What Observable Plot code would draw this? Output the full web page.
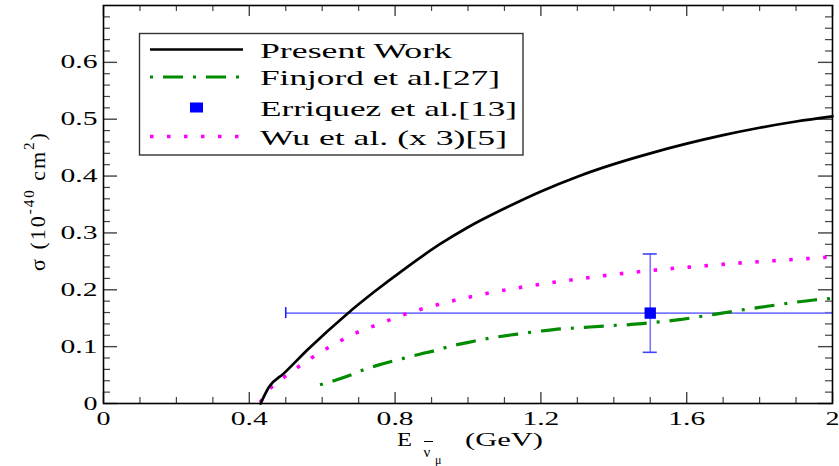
<!DOCTYPE html>
<html><head><meta charset="utf-8">
<script src="https://cdn.jsdelivr.net/npm/d3@7"></script>
<script src="https://cdn.jsdelivr.net/npm/@observablehq/plot@0.6"></script>
<style>html,body{margin:0;padding:0;background:#fff} svg{display:block}
svg text, svg tspan { font-family: "Liberation Serif", "DejaVu Serif", "Times New Roman", serif !important; }</style>
</head><body><div id="chart"></div>
<script>
// ---- data ----
const presentE = [0.431,0.454,0.495,0.559,0.669,0.742,0.833,0.925,1.0,1.1,1.2,1.3,1.4,1.5,1.6,1.7,1.8,1.9,2.0];
const presentS = [0.000,0.029,0.053,0.094,0.158,0.196,0.240,0.281,0.310,0.343,0.373,0.399,0.421,0.440,0.457,0.472,0.485,0.496,0.505];
const finjordE = [0.594,0.632,0.678,0.712,0.751,0.796,0.833,0.870,0.915,0.952,0.998,1.034,1.135,1.235,1.322,1.391,1.449,1.501,1.574,1.638,1.697,1.757,1.821,1.885,1.949,2.0];
const finjordS = [0.033,0.040,0.050,0.059,0.067,0.075,0.081,0.087,0.094,0.101,0.107,0.112,0.122,0.130,0.134,0.137,0.139,0.142,0.147,0.153,0.159,0.165,0.171,0.177,0.182,0.185];
const wuE = [0.430,0.460,0.493,0.527,0.563,0.600,0.639,0.678,0.720,0.765,0.806,0.850,0.895,0.941,0.987,1.032,1.080,1.171,1.268,1.362,1.457,1.552,1.647,1.743,1.839,1.934,2.0];
const wuS = [0.002,0.028,0.045,0.061,0.077,0.092,0.106,0.120,0.131,0.142,0.152,0.162,0.170,0.178,0.185,0.191,0.197,0.207,0.216,0.224,0.231,0.237,0.242,0.247,0.251,0.255,0.258];
const erriquezE = [1.5];
const erriquezS = [0.159];
const erriquezSLow = [0.090];
const erriquezSHigh = [0.263];
const erriquezELow = [0.5];
const erriquezEHigh = [2.0];

const xMajor = [0,0.4,0.8,1.2,1.6,2];
const xTickLabels = ["0","0.4","0.8","1.2","1.6","2"];
const yMajor = [0,0.1,0.2,0.3,0.4,0.5,0.6];
const yTickLabels = ["0","0.1","0.2","0.3","0.4","0.5","0.6"];
const xMinor = d3.range(1,20).map(i => i/10).filter(v => !xMajor.some(m => Math.abs(m-v) < 1e-9));
const yMinor = d3.range(1,35).map(i => i/50).filter(v => !yMajor.some(m => Math.abs(m-v) < 1e-9));

const legendLabels = ["Present Work","Finjord et al.[27]","Erriquez et al.[13]","Wu et al. (x 3)[5]"];
const colPresent = "#000000", colFinjord = "#008b00", colErriquez = "#0000ff", colWu = "#ff00ff";

// ---- build ----
const rows = (E,S) => E.map((e,i) => ({e, s: S[i]}));
const present = rows(presentE, presentS);
const finjord = rows(finjordE, finjordS);
const wu = rows(wuE, wuS);
const pts = erriquezE.map((e,i) => ({e, s: erriquezS[i], lo: erriquezSLow[i], hi: erriquezSHigh[i], xlo: erriquezELow[i], xhi: erriquezEHigh[i]}));

const W = 839, H = 466, mL = 103, mR = 7, mT = 5, mB = 63;
const iw = W - mL - mR, ih = H - mT - mB;
const tickCol = "#444";
const serif = "Liberation Serif, DejaVu Serif, serif";

const svg = Plot.plot({
  width: W, height: H,
  marginLeft: mL, marginRight: mR, marginTop: mT, marginBottom: mB,
  x: {domain: [0, 2]},
  y: {domain: [0, 0.7]},
  style: {fontFamily: serif, fontSize: "19px", background: "#fff", color: "#000", overflow: "visible"},
  marks: [
    Plot.ruleX(xMinor, {stroke: tickCol, strokeWidth: 1.2, insetTop: ih - 6}),
    Plot.ruleX(xMajor, {stroke: tickCol, strokeWidth: 1.4, insetTop: ih - 11}),
    Plot.ruleX(xMinor, {stroke: tickCol, strokeWidth: 1.2, insetBottom: ih - 6}),
    Plot.ruleX(xMajor, {stroke: tickCol, strokeWidth: 1.4, insetBottom: ih - 11}),
    Plot.ruleY(yMinor, {stroke: tickCol, strokeWidth: 1.2, insetRight: iw - 7}),
    Plot.ruleY(yMajor, {stroke: tickCol, strokeWidth: 1.4, insetRight: iw - 14}),
    Plot.ruleY(yMinor, {stroke: tickCol, strokeWidth: 1.2, insetLeft: iw - 7}),
    Plot.ruleY(yMajor, {stroke: tickCol, strokeWidth: 1.4, insetLeft: iw - 14}),
    Plot.axisX(xMajor, {tickSize: 0, tickPadding: 8, tickFormat: d => xTickLabels[xMajor.indexOf(d)], label: null}),
    Plot.axisY(yMajor, {tickSize: 0, tickPadding: 6, tickFormat: d => yTickLabels[yMajor.indexOf(d)], label: null}),
    Plot.ruleY(pts, {y: "s", x1: "xlo", x2: "xhi", stroke: "#7878ff", strokeWidth: 1.6}),
    Plot.ruleX(pts, {x: "e", y1: "lo", y2: "hi", stroke: "#7878ff", strokeWidth: 1.6}),
    Plot.ruleY(pts, {y: "hi", x1: "e", x2: "e", insetLeft: -7, insetRight: -7, stroke: "#4040ff", strokeWidth: 1.6}),
    Plot.ruleY(pts, {y: "lo", x1: "e", x2: "e", insetLeft: -7, insetRight: -7, stroke: "#4040ff", strokeWidth: 1.6}),
    Plot.ruleX(pts, {x: "xlo", y1: "s", y2: "s", insetTop: -5.5, insetBottom: -5.5, stroke: "#2020ff", strokeWidth: 1.6}),
    Plot.line(wu, {x: "e", y: "s", stroke: colWu, strokeWidth: 3.6, strokeDasharray: "3.5,13.5", strokeLinecap: "butt", curve: "monotone-x"}),
    Plot.line(finjord, {x: "e", y: "s", stroke: colFinjord, strokeWidth: 3.2, strokeDasharray: "3,10,20,10", strokeLinecap: "butt", curve: "monotone-x"}),
    Plot.line(present, {x: "e", y: "s", stroke: colPresent, strokeWidth: 2.7, curve: "monotone-x"}),
    Plot.dot(pts, {x: "e", y: "s", symbol: "square", r: 6.4, fill: colErriquez, stroke: "none"}),
    Plot.frame({stroke: "#000", strokeWidth: 1.6})
  ]
});
document.getElementById("chart").appendChild(svg);

const root = d3.select(svg);

// legend
const lg = root.append("g").attr("font-family", serif).attr("text-anchor", "start");
lg.append("rect").attr("x", 139.5).attr("y", 33.5).attr("width", 383.5).attr("height", 121.5)
  .attr("fill", "#fff").attr("stroke", "#333").attr("stroke-width", 1.4);
const rowY = [49.5, 77, 107.5, 136.5];
const x0 = 150, x1 = 243;
lg.append("line").attr("x1", x0).attr("x2", x1).attr("y1", rowY[0]).attr("y2", rowY[0]).attr("stroke", colPresent).attr("stroke-width", 2.7);
lg.append("line").attr("x1", x0).attr("x2", x1).attr("y1", rowY[1]).attr("y2", rowY[1]).attr("stroke", colFinjord).attr("stroke-width", 3.2).attr("stroke-dasharray", "3,10,20,10");
lg.append("rect").attr("x", 190).attr("y", rowY[2] - 5).attr("width", 13).attr("height", 10).attr("fill", colErriquez);
lg.append("line").attr("x1", x0).attr("x2", x1).attr("y1", rowY[3]).attr("y2", rowY[3]).attr("stroke", colWu).attr("stroke-width", 3.6).attr("stroke-dasharray", "3.5,13.5");
const legWidths = [192, 240, 257, 247];
const legTexts = legendLabels.map((t, i) => lg.append("text").attr("x", 260).attr("y", rowY[i] + 8).attr("font-size", 21).text(t));

// x title
const xt = root.append("g").attr("font-family", serif).attr("text-anchor", "start");
const tE = xt.append("text").attr("x", 397).attr("y", 446).attr("font-size", 19).text("E");
xt.append("text").attr("x", 423.5).attr("y", 457).attr("font-size", 15).text("ν");
xt.append("line").attr("x1", 424).attr("x2", 433).attr("y1", 441.5).attr("y2", 441.5).attr("stroke", "#000").attr("stroke-width", 1);
xt.append("text").attr("x", 435).attr("y", 464).attr("font-size", 12).text("μ");
const tG = xt.append("text").attr("x", 465).attr("y", 446).attr("font-size", 19).text("(GeV)");

// y title
const yt = root.append("g").attr("font-family", serif).attr("transform", "translate(45,201) rotate(-90)");
const ytext = yt.append("text").attr("text-anchor", "middle").attr("font-size", 22).attr("letter-spacing", 2);
ytext.append("tspan").text("σ (10");
ytext.append("tspan").attr("dy", -11).attr("font-size", 15).text("-40");
ytext.append("tspan").attr("dy", 11).text(" cm");
ytext.append("tspan").attr("dy", -11).attr("font-size", 15).text("2");
ytext.append("tspan").attr("dy", 11).text(")");

function fit(node, w) {
  node.setAttribute("textLength", w);
  node.setAttribute("lengthAdjust", "spacingAndGlyphs");
}
root.selectAll("g[aria-label='x-axis tick label'] text, g[aria-label='y-axis tick label'] text")
  .each(function(){ fit(this, this.textContent.length === 1 ? 14 : 37); });
legTexts.forEach((t, i) => fit(t.node(), legWidths[i]));
fit(tE.node(), 15);
fit(tG.node(), 78);
</script>
</body></html>
